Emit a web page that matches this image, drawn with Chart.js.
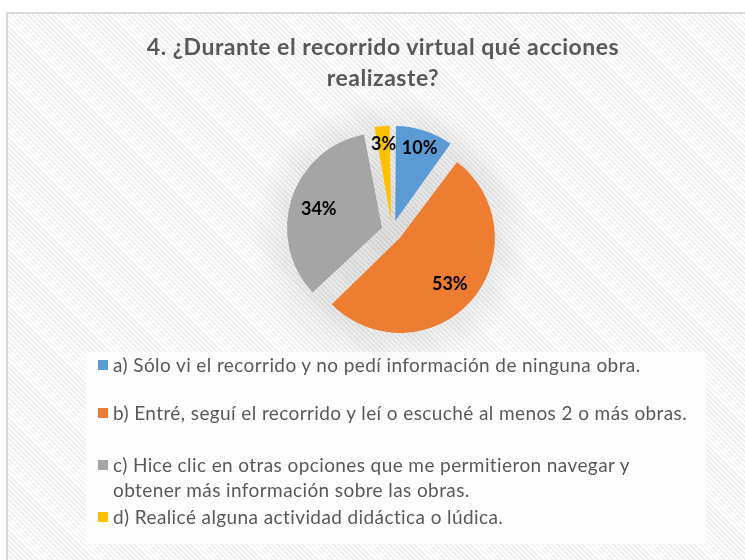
<!DOCTYPE html>
<html lang="es">
<head>
<meta charset="utf-8">
<title>Acciones en el recorrido virtual</title>
<script src="https://cdn.jsdelivr.net/npm/chart.js@4.4.1/dist/chart.umd.min.js"></script>
<style>
  html, body { margin: 0; padding: 0; background: #fff; }
  body { width: 745px; height: 560px; position: relative; overflow: hidden; font-family: Lato, "Open Sans", sans-serif; }
  #frame {
    position: absolute; left: 6px; top: 12px; width: 800px; height: 600px;
    border: 2px solid #d9d9d9; box-sizing: border-box;
    background: repeating-linear-gradient(45deg, #ffffff 0px, #ffffff 1.8px, #efefef 1.8px, #efefef 3.6px);
  }
  /* soft glow behind the pie */
  #halo {
    position: absolute; left: 0; top: 0; width: 745px; height: 560px;
    background: radial-gradient(circle at 391px 233px, rgba(0,0,0,0.12) 0px, rgba(0,0,0,0.08) 96px, rgba(0,0,0,0) 140px);
  }
  #chart { position: absolute; left: 0; top: 0; }
  #title {
    position: absolute; left: 0; top: 31px; width: 766px; text-align: center;
    font-weight: bold; font-size: 23px; letter-spacing: 0.5px; line-height: 31px; color: #595959;
  }
  #legend {
    position: absolute; left: 86px; top: 352px; width: 620px; height: 192px;
    background: rgba(255,255,255,0.72);
  }
  .item { position: absolute; left: 12px; font-size: 19px; letter-spacing: 0.4px; line-height: 25px; color: #595959; white-space: nowrap; }
  .item .box { position: absolute; left: 0; top: 8px; width: 10px; height: 10px; }
  .item .txt { position: absolute; left: 15px; top: 0; }
</style>
</head>
<body>
<div id="frame"></div>
<div id="halo"></div>
<canvas id="chart" width="745" height="560"></canvas>
<div id="title"></div>
<div id="legend"></div>

<script>
// --- data ---
const titleLines = ['4. ¿Durante el recorrido virtual qué acciones', 'realizaste?'];
const categories = ['a)', 'b)', 'c)', 'd)'];
const shares = [10, 53, 34, 3];
const legendLabels = [
  ['a) Sólo vi el recorrido y no pedí información de ninguna obra.'],
  ['b) Entré, seguí el recorrido y leí o escuché al menos 2 o más obras.'],
  ['c) Hice clic en otras opciones que me permitieron navegar y', 'obtener más información sobre las obras.'],
  ['d) Realicé alguna actividad didáctica o lúdica.']
];

// --- look ---
const colors = ['#5B9BD5', '#ED7D31', '#A5A5A5', '#FFC000'];
const explode = 42;                 // Chart.js shifts an arc by offset / 4
const legendTops = [0, 48, 100, 152];

// title + legend as html
document.getElementById('title').innerHTML = titleLines.join('<br>');
const legendEl = document.getElementById('legend');
legendLabels.forEach((lines, i) => {
  const row = document.createElement('div');
  row.className = 'item';
  row.style.top = legendTops[i] + 'px';
  row.innerHTML = `<span class="box" style="background:${colors[i]}"></span><span class="txt">${lines.join('<br>')}</span>`;
  legendEl.appendChild(row);
});

// keep every exploded slice at the same radius (Chart.js grows an offset arc outward)
const evenRadius = {
  id: 'evenRadius',
  beforeDatasetsDraw(chart) {
    const meta = chart.getDatasetMeta(0);
    const R = meta.controller.outerRadius;
    meta.data.forEach(arc => {
      const off = (arc.options.offset || 0) / 4;
      const fix = 1 - Math.sin(Math.min(Math.PI, arc.circumference));
      arc.outerRadius = R - off * fix;
    });
  }
};

// percentage labels inside the slices
const sliceLabels = {
  id: 'sliceLabels',
  afterDatasetsDraw(chart) {
    const ctx = chart.ctx;
    const meta = chart.getDatasetMeta(0);
    const R = meta.controller.outerRadius;
    const data = chart.data.datasets[0].data;
    const total = data.reduce((a, b) => a + b, 0);
    ctx.save();
    ctx.font = 'bold 18px Lato, "Open Sans", sans-serif';
    ctx.fillStyle = '#000';
    ctx.textAlign = 'center';
    ctx.textBaseline = 'middle';
    meta.data.forEach((arc, i) => {
      const mid = (arc.startAngle + arc.endAngle) / 2;
      const off = (arc.options.offset || 0) / 4;
      const fit = data[i] / total < 0.15 ? 0.83 : 0.7;
      const r = off + R * fit;
      ctx.fillText(data[i] + '%', arc.x + Math.cos(mid) * r, arc.y + Math.sin(mid) * r + 2);
    });
    ctx.restore();
  }
};

new Chart(document.getElementById('chart'), {
  type: 'pie',
  data: {
    labels: categories,
    datasets: [{
      data: shares,
      backgroundColor: colors,
      borderWidth: 0,
      offset: explode,
      hoverOffset: 0
    }]
  },
  options: {
    responsive: false,
    animation: false,
    events: [],
    layout: { padding: { left: 276, top: 115, right: 237, bottom: 213 } },
    plugins: {
      legend: { display: false },
      title: { display: false },
      tooltip: { enabled: false }
    }
  },
  plugins: [evenRadius, sliceLabels]
});
</script>
</body>
</html>
